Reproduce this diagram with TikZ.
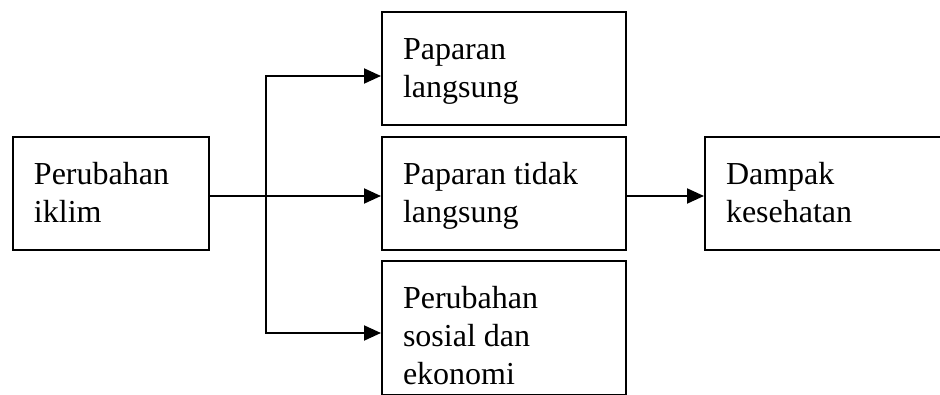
\documentclass[tikz,border=0pt]{standalone}
\usepackage{fontspec}
\setmainfont{Liberation Serif}
\usetikzlibrary{arrows.meta,positioning}

% isi kotak: lebar, tinggi, teks
\newcommand{\isi}[3]{\parbox[t][#2][t]{#1}{\strut #3}}

\begin{document}
\begin{tikzpicture}[x=1pt,y=-1pt,line width=2pt,
  kotak/.style={draw,anchor=north west,inner xsep=21pt,inner ysep=21pt,
    font=\fontsize{32}{38}\selectfont},
  panah/.style={-{Triangle[length=17pt,width=15pt]}},
  cabang2/.style={{Triangle[length=17pt,width=15pt]}-{Triangle[length=17pt,width=15pt]}}]
  \useasboundingbox (0,0) rectangle (940,395);

  \node[kotak] (iklim)  at (12,136)  {\isi{154pt}{71pt}{Perubahan\\iklim}};
  \node[kotak] (ppl)    at (381,11)  {\isi{202pt}{71pt}{Paparan\\langsung}};
  \node[kotak] (ppt)    at (381,136) {\isi{202pt}{71pt}{Paparan tidak\\langsung}};
  \node[kotak] (pse)    at (381,260) {\isi{202pt}{92pt}{Perubahan\\sosial dan\\ekonomi}};
  \node[kotak] (dampak) at (704,136) {\isi{202pt}{71pt}{Dampak\\kesehatan}};

  \coordinate (cabang) at (266,0);
  \coordinate (atas)  at ([yshift=-7.5pt]ppl.west);
  \coordinate (bawah) at ([yshift=-5pt]pse.west);

  \draw[panah] ([yshift=-2.5pt]iklim.east) -- ([yshift=-2.5pt]ppt.west);
  \draw[cabang2] (atas) -| (cabang |- bawah) -- (bawah);
  \draw[panah] ([yshift=-2.5pt]ppt.east) -- ([yshift=-2.5pt]dampak.west);
\end{tikzpicture}
\end{document}
